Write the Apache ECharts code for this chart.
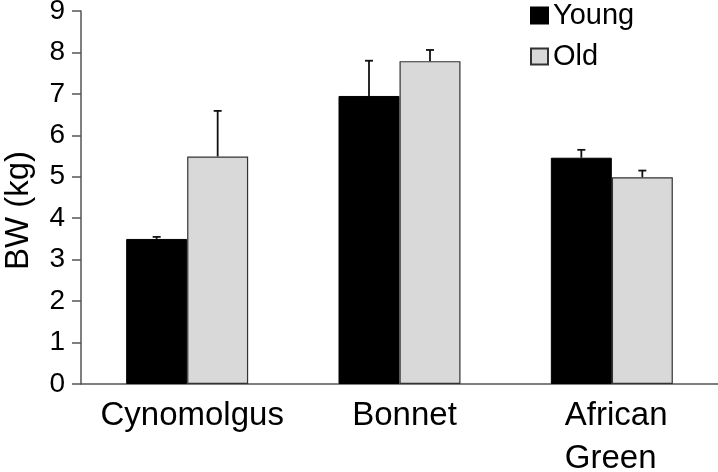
<!DOCTYPE html>
<html><head><meta charset="utf-8">
<script src="https://cdn.jsdelivr.net/npm/echarts@6/dist/echarts.min.js"></script>
<style>html,body{margin:0;padding:0;background:#fff}#c{width:718px;height:472px}</style>
</head><body><div id="c"></div>
<script>
const categories = ['Cynomolgus', 'Bonnet', 'African\nGreen'];
const youngValues = [3.50, 6.95, 5.46];
const youngErrTop = [3.55, 7.80, 5.65];
const oldValues = [5.49, 7.79, 4.99];
const oldErrTop = [6.59, 8.06, 5.15];
const yTicks = [0, 1, 2, 3, 4, 5, 6, 7, 8, 9];

const BW = 61;
const font = 'Liberation Sans, Arial, sans-serif';

function errSeries(name, tops, offset) {
  return {
    type: 'custom', name: name + '-err', silent: true, z: 5,
    data: tops.map((t, i) => [i, t]),
    renderItem: function (params, api) {
      const i = api.value(0);
      const top = api.coord([i, api.value(1)]);
      const base = api.coord([i, (name === 'Young' ? youngValues : oldValues)[i]]);
      const x = top[0] + offset;
      const cap = 4;
      return {
        type: 'group',
        children: [
          { type: 'line', shape: { x1: x, y1: base[1], x2: x, y2: top[1] }, style: { stroke: '#111', lineWidth: 1.8 } },
          { type: 'line', shape: { x1: x - cap, y1: top[1], x2: x + cap, y2: top[1] }, style: { stroke: '#111', lineWidth: 1.8 } }
        ]
      };
    }
  };
}

const chart = echarts.init(document.getElementById('c'));
chart.setOption({
  animation: false,
  textStyle: { fontFamily: font },
  grid: { left: 81, right: 0, top: 11, bottom: 88, containLabel: false, outerBoundsMode: 'none' },
  legend: {
    data: ['Young', 'Old'], orient: 'vertical', left: 525, top: -4,
    itemWidth: 17, itemHeight: 16, itemGap: 12, icon: 'rect',
    textStyle: { fontSize: 29, color: '#000', fontFamily: font }
  },
  xAxis: {
    type: 'category', data: categories,
    axisLine: { lineStyle: { color: '#555', width: 1.5 } },
    axisTick: { show: false },
    axisLabel: {
      interval: 0, hideOverlap: false,
      fontSize: 33, color: '#000', margin: 10, lineHeight: 43, fontFamily: font,
      padding: [0, 0, 0, 10],
      formatter: v => v.includes('\n') ? v.split('\n').map(s => '{l|' + s + '}').join('\n') : v,
      rich: { l: { fontSize: 33, lineHeight: 43, width: 104, align: 'left', color: '#000', fontFamily: font } }
    }
  },
  yAxis: {
    type: 'value', min: 0, max: 9, interval: 1,
    name: 'BW (kg)', nameLocation: 'middle', nameGap: 46,
    nameTextStyle: { fontSize: 33, color: '#000', fontFamily: font, padding: [0, 26, 0, 0] },
    splitLine: { show: false },
    axisLine: { show: true, lineStyle: { color: '#555', width: 1.5 } },
    axisTick: { show: true, inside: false, length: 9, lineStyle: { color: '#555', width: 1.5 } },
    axisLabel: { fontSize: 28, color: '#000', margin: 16, fontFamily: font,
      formatter: v => yTicks.includes(v) ? String(v) : '' }
  },
  series: [
    { name: 'Young', type: 'bar', data: youngValues, barWidth: BW, barGap: '0%',
      itemStyle: { color: '#000', borderColor: '#000', borderWidth: 1 } },
    { name: 'Old', type: 'bar', data: oldValues, barWidth: BW, barGap: '0%',
      itemStyle: { color: '#d9d9d9', borderColor: '#333', borderWidth: 1.2 } },
    errSeries('Young', youngErrTop, -BW / 2),
    errSeries('Old', oldErrTop, BW / 2)
  ]
});
</script></body></html>
